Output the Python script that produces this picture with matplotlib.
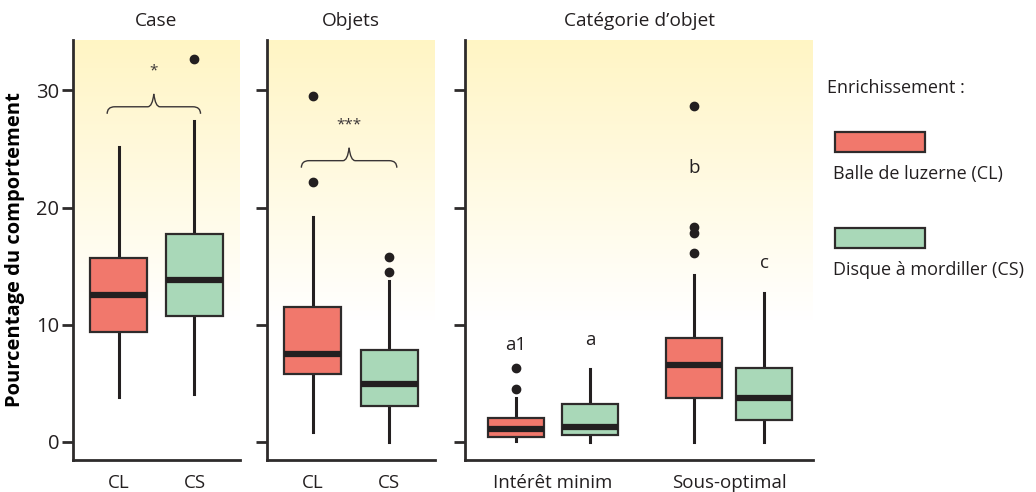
import numpy as np
import matplotlib.pyplot as plt
from matplotlib.patches import Rectangle, PathPatch
from matplotlib.path import Path
from matplotlib.colors import LinearSegmentedColormap

plt.rcParams['font.family'] = ['Open Sans', 'DejaVu Sans']
plt.rcParams['text.color'] = '#231f20'

# --- données (résumés des boîtes : whisker bas, Q1, médiane, Q3, whisker haut) ---
groupes_cl_cs = ['CL', 'CS']
case_stats = [[3.8, 9.4, 12.5, 15.7, 25.2], [4.1, 10.7, 13.8, 17.7, 27.4]]
case_fliers = [[], [32.7]]

objets_stats = [[0.8, 5.8, 7.5, 11.5, 19.2], [0.0, 3.1, 4.9, 7.8, 13.7]]
objets_fliers = [[29.5, 22.2], [15.8, 14.5]]

categories = ['Intérêt minim', 'Sous-optimal']
cat_stats = [[0.1, 0.45, 1.1, 2.0, 3.7], [0.0, 0.6, 1.3, 3.2, 6.2],
             [0.0, 3.75, 6.6, 8.9, 14.2], [0.0, 1.9, 3.75, 6.3, 12.7]]
cat_fliers = [[6.3, 4.5], [], [28.7, 18.3, 17.8, 16.1], []]
cat_lettres = ['a1', 'a', 'b', 'c']
cat_lettres_y = [8.3, 8.7, 23.4, 15.3]

signif_case = ('*', 28.6)
signif_objets = ('***', 24.0)

couleurs = ['#f1786c', '#a9d8b8']
titres = ['Case', 'Objets', "Catégorie d’objet"]
legende = ['Balle de luzerne (CL)', 'Disque à mordiller (CS)']

W, H = 1036, 492
fig = plt.figure(figsize=(W / 100, H / 100), dpi=100)

fond = LinearSegmentedColormap.from_list('fond', ['#ffffff', '#fff5c4'])
dark = '#231f20'


def make_stats(vals, fliers):
    out = []
    for v, f in zip(vals, fliers):
        out.append(dict(whislo=v[0], q1=v[1], med=v[2], q3=v[3], whishi=v[4], fliers=f))
    return out


def boxes(ax, vals, fliers, pos, cols):
    bp = ax.bxp(make_stats(vals, fliers), positions=pos, widths=0.75, patch_artist=True,
                showcaps=False, manage_ticks=False,
                boxprops=dict(edgecolor='#2e2b2b', linewidth=1.6),
                whiskerprops=dict(color=dark, linewidth=2.2),
                medianprops=dict(color=dark, linewidth=4.5, solid_capstyle='butt'),
                flierprops=dict(marker='o', markerfacecolor=dark, markeredgecolor=dark,
                                markersize=6))
    for b, c in zip(bp['boxes'], cols):
        b.set_facecolor(c)
        b.set_zorder(3)
    for w in bp['whiskers']:
        w.set_zorder(2)
    for a in bp['medians'] + bp['fliers']:
        a.set_zorder(4)


def brace(ax, x0, x1, y, label):
    # accolade horizontale, pointe vers le haut au milieu
    xm = (x0 + x1) / 2
    d = 0.6
    h = 1.1
    left = [(x0, y - d), (x0, y), (x0 + 0.1, y), (xm - 0.08, y), (xm - 0.02, y), (xm, y + h)]
    right = [(x1, y - d), (x1, y), (x1 - 0.1, y), (xm + 0.08, y), (xm + 0.02, y), (xm, y + h)]
    c = [Path.MOVETO, Path.CURVE3, Path.CURVE3, Path.LINETO, Path.CURVE3, Path.CURVE3]
    for pts in (left, right):
        ax.add_patch(PathPatch(Path(pts, c), fill=False, edgecolor='#3a3536',
                               linewidth=1.0, zorder=5))
    ax.text(xm, y + h + 1.3, label, ha='center', va='bottom', fontsize=11, color='#3a3536')


def style(ax, xlim, labels_y):
    ax.set_ylim(-1.55, 34.3)
    ax.set_xlim(*xlim)
    grad = np.linspace(0, 1, 256).reshape(-1, 1)
    ax.imshow(grad, cmap=fond, aspect='auto', origin='lower',
              extent=[xlim[0], xlim[1], 10.3, 34.3], zorder=0)
    for s in ['top', 'right']:
        ax.spines[s].set_visible(False)
    for s in ['left', 'bottom']:
        ax.spines[s].set_color('#2e2b2b')
        ax.spines[s].set_linewidth(2)
    ax.set_yticks([0, 10, 20, 30])
    ax.tick_params(axis='y', length=8, width=2, color='#2e2b2b', labelsize=14.5, pad=2,
                   labelleft=labels_y, labelcolor=dark)
    ax.tick_params(axis='x', length=0, labelsize=13.5, pad=10, labelcolor=dark)


bottom = 32 / H
height = 420 / H

ax1 = fig.add_axes([73 / W, bottom, 167 / W, height])
style(ax1, (0.4, 2.6), True)
boxes(ax1, case_stats, case_fliers, [1, 2], couleurs)
ax1.set_xticks([1, 2], groupes_cl_cs)
brace(ax1, 0.85, 2.08, signif_case[1], signif_case[0])
ax1.set_ylabel('Pourcentage du comportement', fontsize=14.5, fontweight='bold', labelpad=8)

ax2 = fig.add_axes([267 / W, bottom, 168 / W, height])
style(ax2, (0.4, 2.6), False)
boxes(ax2, objets_stats, objets_fliers, [1, 2], couleurs)
ax2.set_xticks([1, 2], groupes_cl_cs)
brace(ax2, 0.85, 2.1, signif_objets[1], signif_objets[0])

ax3 = fig.add_axes([465 / W, bottom, 348 / W, height])
style(ax3, (0.31, 5.01), False)
pos3 = [1, 2, 3.4, 4.35]
boxes(ax3, cat_stats, cat_fliers, pos3, couleurs * 2)
ax3.set_xticks([1.5, 3.875], categories)
for x, y, t in zip(pos3, cat_lettres_y, cat_lettres):
    ax3.text(x, y, t, ha='center', va='center', fontsize=13.5, color=dark)

for ax, t in zip([ax1, ax2, ax3], titres):
    ax.set_title(t, fontsize=13.8, pad=10, color=dark)

# légende
fig.text(827 / W, 1 - 88 / H, 'Enrichissement :', fontsize=13, va='center', ha='left')
for i, (lab, col) in enumerate(zip(legende, couleurs)):
    y_rect = 1 - (152 + i * 96) / H
    fig.patches.append(Rectangle((835 / W, y_rect), 90 / W, 20 / H, transform=fig.transFigure,
                                 facecolor=col, edgecolor='#2e2b2b', linewidth=1.6))
    fig.text(833 / W, 1 - (174 + i * 96) / H, lab, fontsize=13, va='center', ha='left')

fig.savefig('out.png', dpi=100)
